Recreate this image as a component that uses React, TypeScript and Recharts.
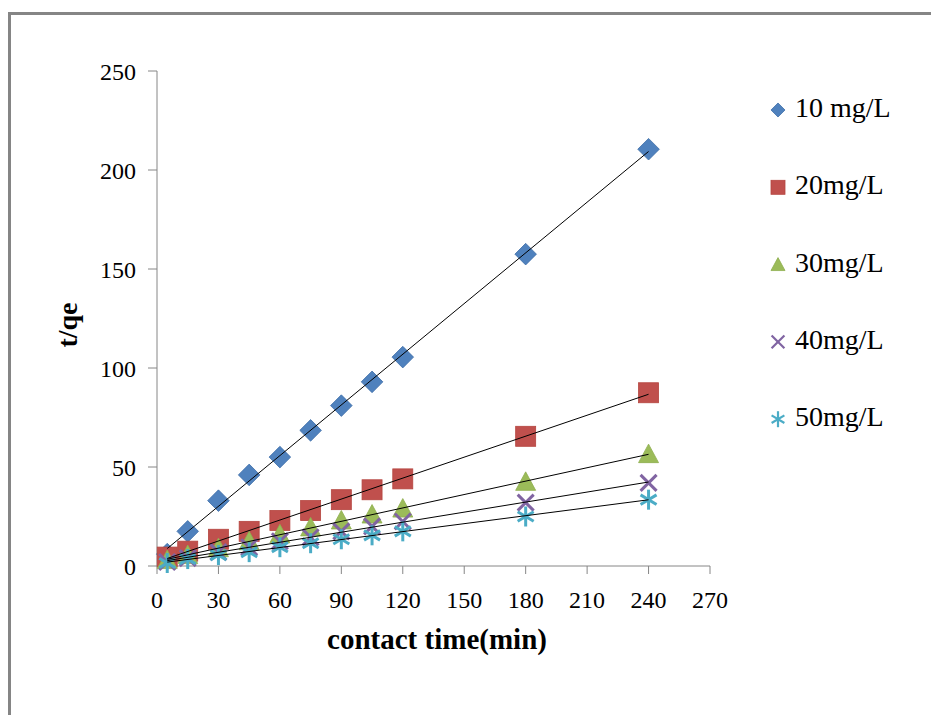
import React from 'react';
import { ScatterChart, Scatter, XAxis, YAxis, Legend } from 'recharts';

const times = [5, 15, 30, 45, 60, 75, 90, 105, 120, 180, 240];
const c10 = [6, 17.5, 33, 46, 55, 68.5, 81, 93, 105.5, 157.5, 210.5];
const c20 = [4.5, 7.5, 13.5, 17.5, 23, 28, 33.5, 38.5, 44, 65.5, 87.5];
const c30 = [3, 5.5, 9, 12.5, 16, 19.5, 23, 26, 29, 42.5, 56.5];
const c40 = [2, 4, 7, 9.5, 12.5, 14.5, 17.5, 20, 22.5, 32, 42];
const c50 = [1.5, 3.5, 5.5, 7, 9.5, 11.5, 13.5, 15.5, 17.5, 25, 33.5];

const seriesNames = ['10 mg/L', '20mg/L', '30mg/L', '40mg/L', '50mg/L'];
const seriesValues = [c10, c20, c30, c40, c50];
const seriesColors = ['#4F81BD', '#C0504D', '#9BBB59', '#8064A2', '#4BACC6'];
const seriesKinds = ['diamond', 'square', 'triangle', 'x', 'star'];

const xTicks = [0, 30, 60, 90, 120, 150, 180, 210, 240, 270];
const yTicks = [0, 50, 100, 150, 200, 250];

const FONT = '"Liberation Serif", "Times New Roman", serif';

const toPoints = (vals: number[]) => times.map((t, i) => ({ x: t, y: vals[i] }));

function Marker({ kind, cx, cy, r, color, sw }: { kind: string; cx: number; cy: number; r: number; color: string; sw: number }) {
  if (kind === 'diamond') {
    const s = r * 1.08;
    return <path d={`M${cx},${cy - s}L${cx + s},${cy}L${cx},${cy + s}L${cx - s},${cy}Z`} fill={color} stroke="#3F6FA8" strokeWidth={0.8} />;
  }
  if (kind === 'square') {
    return <rect x={cx - r} y={cy - r} width={2 * r} height={2 * r} fill={color} stroke="#B5453F" strokeWidth={0.8} />;
  }
  if (kind === 'triangle') {
    return <path d={`M${cx},${cy - r}L${cx + r},${cy + r * 0.85}L${cx - r},${cy + r * 0.85}Z`} fill={color} stroke="#8EAE4E" strokeWidth={0.8} />;
  }
  if (kind === 'x') {
    const d = r * 0.8;
    return (
      <g stroke={color} strokeWidth={sw} strokeLinecap="butt">
        <line x1={cx - d} y1={cy - d} x2={cx + d} y2={cy + d} />
        <line x1={cx - d} y1={cy + d} x2={cx + d} y2={cy - d} />
      </g>
    );
  }
  const d = r * 0.8;
  return (
    <g stroke={color} strokeWidth={sw} strokeLinecap="butt">
      <line x1={cx - d} y1={cy - d * 0.6} x2={cx + d} y2={cy + d * 0.6} />
      <line x1={cx - d} y1={cy + d * 0.6} x2={cx + d} y2={cy - d * 0.6} />
      <line x1={cx} y1={cy - r} x2={cx} y2={cy + r} />
    </g>
  );
}

const makeShape = (kind: string, color: string) => (props: any) => {
  const { cx, cy } = props;
  if (cx == null || cy == null) return <g />;
  return <Marker kind={kind} cx={cx} cy={cy} r={10} color={color} sw={3} />;
};

const emptyShape = () => <g />;

const legendR = [6.5, 7, 7, 8, 8];

const renderLegend = () => (
  <svg width={171} height={360} style={{ display: 'block' }}>
    {seriesNames.map((name, i) => {
      const cy = 20 + i * 77.3;
      return (
        <g key={name}>
          <Marker kind={seriesKinds[i]} cx={18} cy={cy} r={legendR[i]} color={seriesColors[i]} sw={2.2} />
          <text x={35} y={cy + 7} fontSize={28} fontFamily={FONT} fill="#000">
            {name}
          </text>
        </g>
      );
    })}
  </svg>
);

export default function App() {
  return (
    <div style={{ position: 'fixed', left: 0, top: 0, width: 931, height: 715, overflow: 'hidden', background: '#fff' }}>
      <div
        style={{
          position: 'absolute',
          left: 8,
          top: 12,
          width: 1000,
          height: 1000,
          border: '3px solid #858585',
        }}
      />
      <div style={{ position: 'absolute', left: 0, top: 0 }}>
        <ScatterChart width={931} height={715} margin={{ top: 71, right: 221, bottom: 59, left: 97 }}>
          <XAxis
            dataKey="x"
            type="number"
            domain={[0, 270]}
            ticks={xTicks}
            interval={0}
            stroke="#868686"
            tickSize={8}
            tickMargin={17}
            height={90}
            tick={{ fill: '#000', fontSize: 24, fontFamily: FONT }}
            label={{
              content: () => (
                <text x={437} y={649} textAnchor="middle" fontSize={29} fontWeight="bold" fontFamily={FONT} fill="#000">
                  contact time(min)
                </text>
              ),
            }}
          />
          <YAxis
            dataKey="y"
            type="number"
            domain={[0, 250]}
            ticks={yTicks}
            interval={0}
            stroke="#868686"
            tickSize={9}
            tickMargin={12}
            width={60}
            tick={{ fill: '#000', fontSize: 24, fontFamily: FONT }}
            label={{
              content: () => (
                <text
                  x={67}
                  y={325}
                  transform="rotate(-90 67 325)"
                  textAnchor="middle"
                  dominantBaseline="central"
                  fontSize={28}
                  fontWeight="bold"
                  fontFamily={FONT}
                  fill="#000"
                >
                  t/qe
                </text>
              ),
            }}
          />
          {seriesValues.map((vals, i) => (
            <Scatter
              key={'m' + i}
              name={seriesNames[i]}
              data={toPoints(vals)}
              fill={seriesColors[i]}
              shape={makeShape(seriesKinds[i], seriesColors[i])}
              isAnimationActive={false}
            />
          ))}
          {seriesValues.map((vals, i) => (
            <Scatter
              key={'t' + i}
              name={seriesNames[i] + ' trend'}
              data={toPoints(vals)}
              line={{ stroke: '#000', strokeWidth: 1 }}
              lineType="fitting"
              shape={emptyShape}
              legendType="none"
              isAnimationActive={false}
            />
          ))}
          <Legend
            layout="vertical"
            align="center"
            verticalAlign="middle"
            content={renderLegend}
            wrapperStyle={{ position: 'absolute', left: 760, top: 90, width: 171, height: 360 }}
          />
        </ScatterChart>
      </div>
    </div>
  );
}
